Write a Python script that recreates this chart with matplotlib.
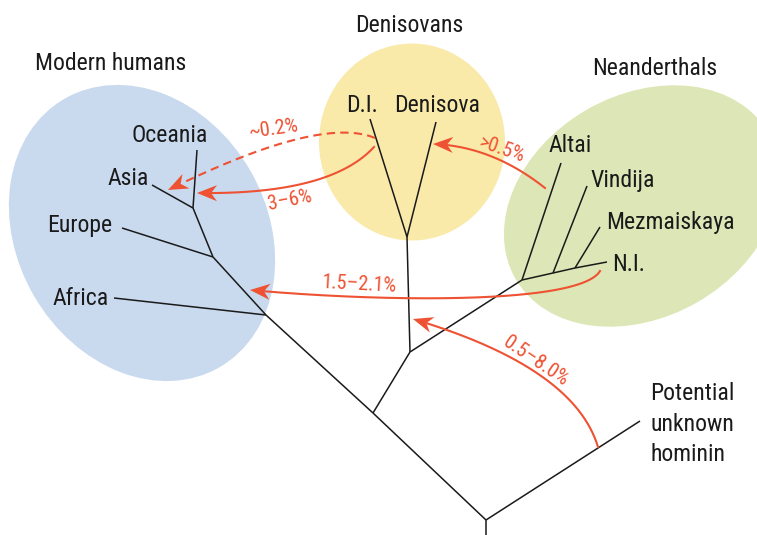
import numpy as np
import matplotlib
matplotlib.use("Agg")
import matplotlib.pyplot as plt
from matplotlib import font_manager
from matplotlib.patches import Ellipse, Polygon
from math import comb

# Tree nodes (picture coordinates, y grows downwards)
nodes = {
    "base": (486, 535), "root": (486, 520), "unknown": (640, 421),
    "split": (373, 413), "archaic": (410, 352),
    "den": (407, 237), "di": (370, 119), "denisova": (436, 122),
    "nea": (522, 280), "altai": (561, 163),
    "vin_n": (553, 273), "vindija": (587, 186),
    "mez_n": (575, 268), "mez": (600, 227), "ni": (607, 262),
    "afr_n": (266, 315), "africa": (114, 298),
    "eur_n": (213, 257), "europe": (122, 228),
    "asia_n": (193, 208), "asia": (152, 185), "oceania": (197, 150),
}
edges = [("base", "root"), ("root", "unknown"), ("root", "split"),
         ("split", "afr_n"), ("split", "archaic"), ("archaic", "den"),
         ("den", "di"), ("den", "denisova"), ("archaic", "nea"),
         ("nea", "altai"), ("nea", "vin_n"), ("vin_n", "vindija"),
         ("vin_n", "mez_n"), ("mez_n", "mez"), ("mez_n", "ni"),
         ("afr_n", "africa"), ("afr_n", "eur_n"), ("eur_n", "europe"),
         ("eur_n", "asia_n"), ("asia_n", "asia"), ("asia_n", "oceania")]

# leaf labels: text, x centre, baseline y
leaf_text = ["Oceania", "Asia", "Europe", "Africa", "D.I.", "Denisova",
             "Altai", "Vindija", "Mezmaiskaya", "N.I."]
leaf_x = [170, 128, 80, 81, 362, 437, 570, 623, 670, 629]
leaf_y = [142, 185, 232, 305, 112, 112, 152, 187, 229, 271]

group_text = ["Modern humans", "Denisovans", "Neanderthals"]
group_x = [111, 409, 655]
group_y = [70, 32, 75]

unknown_lines = ["Potential", "unknown", "hominin"]
unknown_y = [400, 431, 461]

# gene-flow arrows: bezier control points, label, label pos, rotation, dashed
flows = [
    ([(375, 138), (320, 115), (168, 190)], "~0.2%", (274, 129), 8, True),
    ([(374, 147), (330, 195), (197, 193)], "3\u20136%", (290, 200), 11, False),
    ([(545, 188), (492, 146), (433, 144)], ">0.5%", (502, 150), -19, False),
    ([(600, 271), (580, 305), (380, 302), (250, 290)], "1.5\u20132.1%",
     (359, 284), -3, False),
    ([(598, 447), (574, 367), (413, 319)], "0.5\u20138.0%", (536, 361), -34, False),
]

RED = "#ee5232"
INK = "#1a1a1a"
names = {f.name for f in font_manager.fontManager.ttflist}
FAM = next((f for f in ["Liberation Sans Narrow", "Roboto Condensed",
                        "Archivo Narrow", "Liberation Sans"] if f in names))

fig = plt.figure(figsize=(7.57, 5.35), dpi=100)
ax = fig.add_axes([0, 0, 1, 1])
ax.set_xlim(0, 757)
ax.set_ylim(535, 0)
ax.axis("off")
renderer = fig.canvas.get_renderer()


def fit_size(sample, target_px, base=18):
    t = ax.text(0, 0, sample, fontsize=base, family=FAM)
    w = t.get_window_extent(renderer).width
    t.remove()
    return base * target_px / w


BIG = fit_size("Modern humans", 152)
SMALL = fit_size("1.5\u20132.1%", 75)

# group blobs
ax.add_patch(Ellipse((142, 233), 310, 250, angle=60, color="#c9d9ee", lw=0, zorder=0))
ax.add_patch(Ellipse((412, 142), 186, 197, color="#f9eaaa", lw=0, zorder=0))
ax.add_patch(Ellipse((642, 206), 292, 222, angle=-30, color="#dde6b6", lw=0, zorder=0))

for a, b in edges:
    (x0, y0), (x1, y1) = nodes[a], nodes[b]
    ax.plot([x0, x1], [y0, y1], color=INK, lw=1.1, solid_capstyle="butt", zorder=2)


def bezier(pts, n=200):
    pts = np.array(pts, float)
    t = np.linspace(0, 1, n)[:, None]
    k = len(pts) - 1
    out = np.zeros((n, 2))
    for i, p in enumerate(pts):
        out += comb(k, i) * (1 - t) ** (k - i) * t ** i * p
    return out


HL, HW = 20.0, 8.0
for pts, lab, (lx, ly), rot, dashed in flows:
    c = bezier(pts)
    tip = c[-1]
    d = tip - c[-8]
    d /= np.linalg.norm(d)
    nrm = np.array([-d[1], d[0]])
    base = tip - d * HL
    keep = np.linalg.norm(c - tip, axis=1) > HL * 0.7
    seg = c[keep]
    ax.plot(seg[:, 0], seg[:, 1], color=RED, lw=1.5,
            ls=(0, (4, 2.5)) if dashed else "-", zorder=3)
    head = [tip, base + nrm * HW, tip - d * HL * 0.7, base - nrm * HW]
    ax.add_patch(Polygon(head, closed=True, color=RED, lw=0, zorder=4))
    ax.text(lx, ly, lab, color=RED, fontsize=SMALL, family=FAM,
            rotation=rot, rotation_mode="anchor", ha="center", va="center", zorder=5)

for t, x, y in zip(leaf_text, leaf_x, leaf_y):
    ax.text(x, y, t, fontsize=BIG, family=FAM, color=INK,
            ha="center", va="baseline", zorder=5)
for t, x, y in zip(group_text, group_x, group_y):
    ax.text(x, y, t, fontsize=BIG, family=FAM, color=INK,
            ha="center", va="baseline", zorder=5)
for t, y in zip(unknown_lines, unknown_y):
    ax.text(650, y, t, fontsize=BIG, family=FAM, color=INK,
            ha="left", va="baseline", zorder=5)

fig.savefig("out.png", dpi=100)
